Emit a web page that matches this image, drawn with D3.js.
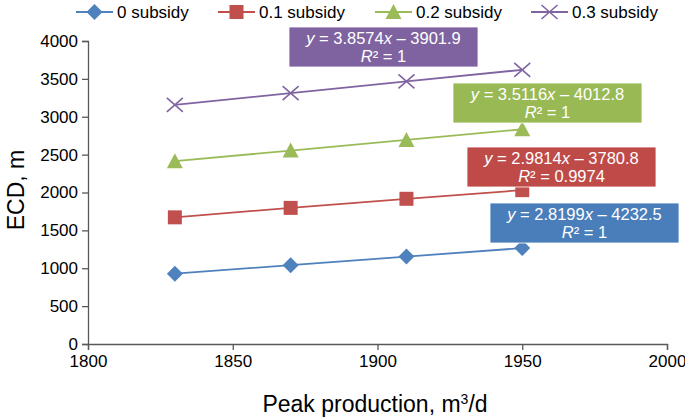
<!DOCTYPE html>
<html>
<head>
<meta charset="utf-8">
<script src="https://cdn.jsdelivr.net/npm/d3@7"></script>
<style>
  body { margin: 0; background: #fff; }
  svg { font-family: "Liberation Sans", Arial, sans-serif; }
</style>
</head>
<body>
<div id="chart"></div>
<script>
const xValues = [1830, 1870, 1910, 1950];
const seriesNames = ["0 subsidy", "0.1 subsidy", "0.2 subsidy", "0.3 subsidy"];
const sub0 = [928, 1041, 1154, 1266];
const sub1 = [1672, 1797, 1917, 2031];
const sub2 = [2413, 2554, 2694, 2835];
const sub3 = [3157, 3311, 3466, 3620];
const colors = ["#4F81BD", "#C0504D", "#9BBB59", "#8064A2"];
const markers = ["diamond", "square", "triangle", "cross"];
const eqSlope = ["2.8199", "2.9814", "3.5116", "3.8574"];
const eqIntercept = ["4232.5", "3780.8", "4012.8", "3901.9"];
const rSquared = ["1", "0.9974", "1", "1"];
const xTicks = [1800, 1850, 1900, 1950, 2000];
const yTicks = [0, 500, 1000, 1500, 2000, 2500, 3000, 3500, 4000];

const allSeries = [sub0, sub1, sub2, sub3];

const w = 685, h = 420;
const svg = d3.select("#chart").append("svg").attr("width", w).attr("height", h);

const x = d3.scaleLinear().domain([1800, 2000]).range([88, 667]);
const y = d3.scaleLinear().domain([0, 4000]).range([344, 41]);

const axisColor = "#595959";

// axes
const xAxis = svg.append("g")
  .attr("transform", `translate(0,${y(0)})`)
  .call(d3.axisBottom(x).tickValues(xTicks).tickSizeOuter(0).tickSize(6).tickPadding(5).tickFormat(d3.format("d")));
const yAxis = svg.append("g")
  .attr("transform", `translate(${x(1800)},0)`)
  .call(d3.axisLeft(y).tickValues(yTicks).tickSizeOuter(0).tickSize(6).tickPadding(4).tickFormat(d3.format("d")));
[xAxis, yAxis].forEach(g => {
  g.select(".domain").attr("stroke", axisColor).attr("stroke-width", 1.3);
  g.selectAll(".tick line").attr("stroke", axisColor).attr("stroke-width", 1.3);
  g.selectAll(".tick text").attr("fill", "#000").attr("font-size", 17)
    .attr("font-family", "Liberation Sans, Arial, sans-serif");
});

// axis titles
svg.append("text")
  .attr("x", 375).attr("y", 412)
  .attr("text-anchor", "middle").attr("font-size", 23)
  .html('Peak production, m<tspan baseline-shift="super" font-size="14">3</tspan>/d');
svg.append("text")
  .attr("transform", `translate(24,190) rotate(-90)`)
  .attr("text-anchor", "middle").attr("font-size", 23)
  .text("ECD, m");

function drawMarker(g, type, color, cx, cy) {
  if (type === "diamond") {
    g.append("path").attr("d", `M${cx},${cy - 8}L${cx + 8},${cy}L${cx},${cy + 8}L${cx - 8},${cy}Z`).attr("fill", color);
  } else if (type === "square") {
    g.append("rect").attr("x", cx - 7).attr("y", cy - 7).attr("width", 14).attr("height", 14).attr("fill", color);
  } else if (type === "triangle") {
    g.append("path").attr("d", `M${cx},${cy - 8}L${cx + 8},${cy + 7}L${cx - 8},${cy + 7}Z`).attr("fill", color);
  } else {
    g.append("path").attr("d", `M${cx - 8},${cy - 7}L${cx + 8},${cy + 7}M${cx - 8},${cy + 7}L${cx + 8},${cy - 7}`)
      .attr("stroke", color).attr("stroke-width", 1.6).attr("fill", "none");
  }
}

const line = d3.line().x((d, i) => x(xValues[i])).y(d => y(d));

allSeries.forEach((vals, s) => {
  const g = svg.append("g");
  g.append("path").datum(vals).attr("d", line)
    .attr("fill", "none").attr("stroke", colors[s]).attr("stroke-width", 1.8);
  vals.forEach((v, i) => drawMarker(g, markers[s], colors[s], x(xValues[i]), y(v)));
});

// legend
const legendX = [76, 218, 375, 531];
const legend = svg.append("g");
seriesNames.forEach((name, s) => {
  const lx = legendX[s], ly = 12;
  legend.append("line").attr("x1", lx).attr("x2", lx + 37).attr("y1", ly).attr("y2", ly)
    .attr("stroke", colors[s]).attr("stroke-width", 1.8);
  drawMarker(legend, markers[s], colors[s], lx + 18.5, ly);
  legend.append("text").attr("x", lx + 41).attr("y", ly + 6).attr("font-size", 17).text(name);
});

// trendline labels
const boxFills = ["#4A7EBB", "#BE4B48", "#98B954", "#7F62A0"];
const boxes = [
  { x0: 490, y0: 203 },
  { x0: 467, y0: 147 },
  { x0: 453, y0: 83 },
  { x0: 289, y0: 27 }
];
boxes.forEach((b, s) => {
  const bw = 189, bh = 40;
  const g = svg.append("g");
  g.append("rect").attr("x", b.x0).attr("y", b.y0).attr("width", bw).attr("height", bh)
    .attr("fill", boxFills[s]).attr("stroke", "#fff").attr("stroke-width", 0.8);
  const cx = b.x0 + bw / 2;
  g.append("text").attr("x", cx).attr("y", b.y0 + 17).attr("text-anchor", "middle")
    .attr("fill", "#fff").attr("font-size", 16.5)
    .html(`<tspan font-style="italic">y</tspan> = ${eqSlope[s]}<tspan font-style="italic">x</tspan> \u2013 ${eqIntercept[s]}`);
  g.append("text").attr("x", cx).attr("y", b.y0 + 35).attr("text-anchor", "middle")
    .attr("fill", "#fff").attr("font-size", 16.5)
    .html(`<tspan font-style="italic">R</tspan>\u00b2 = ${rSquared[s]}`);
});
</script>
</body>
</html>
